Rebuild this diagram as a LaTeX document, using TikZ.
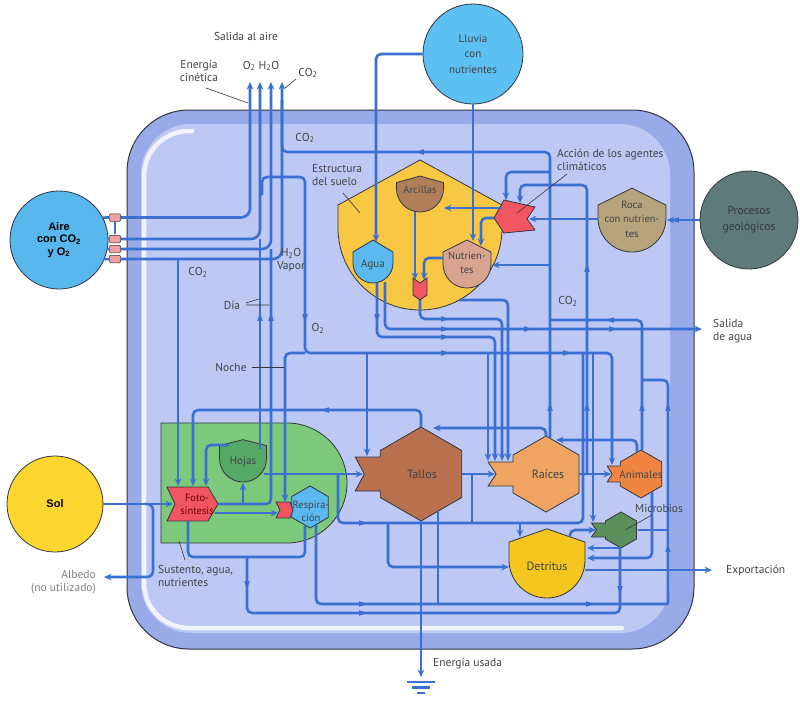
\documentclass[tikz,border=0pt]{standalone}
\usepackage{fontspec}
\newfontfamily\labf{PT Sans}
\newfontfamily\arialf{Liberation Sans}
\usetikzlibrary{arrows.meta}
\definecolor{linec}{HTML}{3A70D2}
\definecolor{edgec}{HTML}{33363F}
\definecolor{labc}{HTML}{404448}
\definecolor{boxout}{HTML}{98AAE8}
\definecolor{boxin}{HTML}{BDC8F4}
\definecolor{airec}{HTML}{58B7EC}
\definecolor{solc}{HTML}{FDD630}
\definecolor{lluviac}{HTML}{5CC0F2}
\definecolor{procc}{HTML}{5E7B79}
\definecolor{rocac}{HTML}{B7A47C}
\definecolor{soilc}{HTML}{F8C744}
\definecolor{arcc}{HTML}{B07F5A}
\definecolor{aguac}{HTML}{5AB9EF}
\definecolor{nutc}{HTML}{D8A38F}
\definecolor{redc}{HTML}{F05560}
\definecolor{greenc}{HTML}{7DC97C}
\definecolor{hojac}{HTML}{56A865}
\definecolor{tallc}{HTML}{B8704E}
\definecolor{raizc}{HTML}{EFA462}
\definecolor{animc}{HTML}{F08541}
\definecolor{microc}{HTML}{5D8F5C}
\definecolor{detc}{HTML}{F5C520}
\definecolor{pinkc}{HTML}{F0A0A0}
\newcommand\shieldpath[6]{%
  \filldraw[draw=edgec, line width=0.8pt, fill=#6] ({#1},{#2-#4*#3}) -- ({#1+#3},{#2-#5*#3}) -- ({#1+#3},{#2}) arc[start angle=0,end angle=-180,radius=#3pt] -- ({#1-#3},{#2-#5*#3}) -- cycle;}
\newcommand\hexpath[4]{%
  \filldraw[draw=edgec, line width=0.8pt, fill=#4] ({#1},{#2-#3}) -- ({#1+0.866*#3},{#2-0.5*#3}) -- ({#1+0.866*#3},{#2+0.5*#3}) -- ({#1},{#2+#3}) -- ({#1-0.866*#3},{#2+0.5*#3}) -- ({#1-0.866*#3},{#2-0.5*#3}) -- cycle;}
\newcommand\conspath[7]{%
  \filldraw[draw=edgec, line width=0.8pt, fill=#7] ({#1},{#2-#3}) -- ({#1+0.866*#3},{#2-0.5*#3}) -- ({#1+0.866*#3},{#2+0.5*#3}) -- ({#1},{#2+#3}) -- ({#1-0.866*#3},{#2+0.5*#3}) -- ({#1-0.866*#3},{#2+#5}) -- ({#1-0.866*#3-#4},{#2+#5}) -- ({#1-0.866*#3-#4+#6},{#2}) -- ({#1-0.866*#3-#4},{#2-#5}) -- ({#1-0.866*#3},{#2-#5}) -- ({#1-0.866*#3},{#2-0.5*#3}) -- cycle;}
\newcommand\tipat[3]{\fill[linec] ({#1},{#2}) +(#3:4.5pt) -- +(#3+145:4.8pt) -- +(#3-145:4.8pt) -- cycle;}
\begin{document}
\begin{tikzpicture}[x=1pt,y=-1pt,
  flow/.style={draw=linec, line width=2.6pt, rounded corners=5pt},
  flowa/.style={flow, -{Stealth[length=7.5pt,width=6.5pt]}},
  lab/.style={font=\labf\fontsize{11.5}{13.5}\selectfont, text=labc, inner sep=0pt, align=center},
  labl/.style={lab, align=left, anchor=west},
  intext/.style={font=\labf\fontsize{10.5}{12}\selectfont, text=labc, inner sep=0pt, align=center},
  pointer/.style={draw=edgec, line width=0.6pt},
  bigcirc/.style={circle, draw=edgec, line width=0.8pt, inner sep=0pt, align=center},
  pinkbox/.style={draw=edgec, line width=0.5pt, fill=pinkc, minimum width=11pt, minimum height=7.5pt, inner sep=0pt, rounded corners=1pt}]
\useasboundingbox (0,0) rectangle (800,702);
\fill[white] (0,0) rectangle (800,702);
% system frame
\filldraw[draw=edgec, line width=1pt, fill=boxout, rounded corners=62pt] (127,110) rectangle (694,649);
\fill[boxin, rounded corners=50pt] (141,124) rectangle (670,633);
\draw[white, opacity=0.8, line width=4.5pt, line cap=round, rounded corners=45pt] (192,131) -- (144,131) -- (144,628) -- (622,628);
% external sources
\node[bigcirc, fill=airec, minimum size=98pt, font=\arialf\bfseries\fontsize{11}{12.5}\selectfont] (aire) at (59,240) {Aire\\con CO\textsubscript{2}\\y O\textsubscript{2}};
\node[bigcirc, fill=solc, minimum size=96pt, font=\arialf\bfseries\fontsize{11}{12.5}\selectfont] (sol) at (55,504) {Sol};
\node[bigcirc, fill=lluviac, minimum size=100pt, font=\labf\fontsize{11}{15.5}\selectfont, text=labc] (lluvia) at (473,54) {Lluvia\\con\\nutrientes};
\node[bigcirc, fill=procc, minimum size=98pt, font=\labf\fontsize{11.5}{16}\selectfont, text=edgec] (procesos) at (749,220) {Procesos\\geológicos};
% soil structure
\shieldpath{420}{228}{82}{0.83}{0.28}{soilc}
\shieldpath{420}{188.5}{23.5}{0.53}{0.25}{arcc}
\shieldpath{373}{263}{20}{1.15}{0.55}{aguac}
\shieldpath{467}{264}{24}{1.0}{0.5}{nutc}
\shieldpath{632}{218}{34}{0.88}{0.38}{rocac}
\filldraw[draw=edgec, line width=0.8pt, fill=redc] (494,218) -- (504,200) -- (535,207) -- (527,219) -- (535,230) -- (504,233) -- cycle;
\filldraw[draw=edgec, line width=0.8pt, fill=redc] (413,278) -- (420,283) -- (427,278) -- (427,295) -- (420,300) -- (413,295) -- cycle;
% plant zone
\filldraw[draw=edgec, line width=0.8pt, fill=greenc] (161,423) -- (287,423) arc[start angle=90,end angle=-90,radius=60pt] -- (161,543) -- cycle;
\shieldpath{243}{458.5}{23.5}{0.8}{0.55}{hojac}
\filldraw[draw=edgec, line width=0.8pt, fill=redc] (167,487) -- (208,487) -- (218,504) -- (208,521) -- (167,521) -- (175,504) -- cycle;
\hexpath{310}{507}{21}{aguac}
\filldraw[draw=edgec, line width=0.8pt, fill=redc] (276,502) -- (290,502) -- (293,510) -- (290,518) -- (276,518) -- (280,510) -- cycle;
% consumers
\conspath{421}{474}{47}{25}{17}{9}{tallc}
\conspath{546}{474}{38}{25}{12}{8}{raizc}
\conspath{641}{474}{24}{13}{8}{5}{animc}
\conspath{621}{530}{18}{14}{7}{5}{microc}
\shieldpath{547}{560}{38}{0.82}{0.47}{detc}
% air exchange boxes
\node[pinkbox] (p1) at (115,217.5) {};
\node[pinkbox] (p2) at (115,239) {};
\node[pinkbox] (p3) at (115,249) {};
\node[pinkbox] (p4) at (115,259) {};
% named ends
\coordinate (out1) at (250,82);
\coordinate (out2) at (260,82);
\coordinate (out3) at (271,82);
\coordinate (out4) at (282,82);
\coordinate (salidaagua) at (702,329);
\coordinate (export) at (712,570);
\coordinate (albedo) at (104,577);
\coordinate (sink) at (421,677);
% ---- connectors ----
\draw[flow] (aire.27) -- (p1.west);
\draw[flow] (aire.1) -- (p2.west);
\draw[flow] (aire.-11) -- (p3.west);
\draw[flow] (aire.-23) -- (p4.west);
\draw[draw=linec, line width=1.2pt, -{Stealth[length=3pt]}] (p1.south) -- (p2.north);
\draw[flowa, rounded corners=9pt] (p1.east) -| (out1);
\draw[flowa, rounded corners=9pt] (p2.east) -| (out2);
\draw[flowa, rounded corners=9pt] (p3.east) -| (out3);
\draw[flowa, rounded corners=9pt] (p4.east) -| (out4);
\draw[flowa] (178,259) -- (178,486);
\draw[flow] (218,504) -- (271,504) -- (271,249);
\draw[flowa] (243,504) -- (243,483);
\draw[flow] (260,449) -- (260,239);
\draw[flowa] (215,513) -- (278,513);
\draw[flowa] (229,445) -- (206,445) -- (206,486);
\draw[flowa] (421,427) -- (421,410) -- (193,410) -- (193,486);
\draw[flowa] (262,195) -- (262,177) -- (305,177) -- (305,353) -- (612,353) -- (612,465);
\draw[flowa] (305,353) -- (285,353) -- (285,502);
\draw[flowa] (367,353) -- (367,456);
\draw[flowa] (488,353) -- (488,461);
\draw[flowa] (593,353) -- (593,522);
\draw[flowa] (sol.east) -- (173,504);
\draw[flowa, rounded corners=6pt] (145,504) -- (153,504) -- (153,577) -- (albedo);
\draw[flowa] (lluvia.west) -| (376,242);
\draw[flowa] (lluvia.south) -- (473,241);
\draw[flowa] (procesos.west) -- (667,220);
\draw[flowa] (598,219) -- (529,219);
\draw[flowa] (502,208) -- (444,208);
\draw[flowa] (494,218) -- (481,218) -- (481,246);
\draw[flowa] (550,172) -- (506,172) -- (506,200);
\draw[flowa] (587,474) -- (587,185) -- (520,185) -- (520,203);
\draw[flowa] (550,265) -- (492,265);
\draw[flow] (550,438) -- (550,152) -- (282,152) -- (282,100);
\draw[flowa] (415,212) -- (415,280);
\draw[flowa] (443,258) -- (424,258) -- (424,280);
\draw[flowa] (420,300) -- (420,319) -- (502,319) -- (502,461);
\draw[flowa] (377,283) -- (377,337) -- (495,337) -- (495,461);
\draw[flowa] (385,282) -- (385,329) -- (salidaagua);
\draw[flowa] (459,300) -- (508,300) -- (508,461);
\draw[flowa] (264,474) -- (363,474);
\draw[flow] (338,474) -- (338,523) -- (583,523) -- (583,353);
\draw[flowa] (388,523) -- (388,567) -- (509,567);
\draw[flowa] (520,523) -- (520,537);
\draw[flowa] (462,474) -- (495,474);
\draw[flow] (472,474) -- (472,523);
\draw[flowa] (579,474) -- (611,474);
\draw[flowa] (546,436) -- (546,428) -- (433,428);
\draw[flowa] (637,452) -- (637,440) -- (556,440);
\draw[flow] (642,450) -- (642,320) -- (550,320);
\draw[flow] (642,380) -- (668,380) -- (668,604);
\draw[flow] (638,530) -- (668,530);
\draw[flowa] (652,492) -- (652,558) -- (587,558);
\draw[flowa] (621,548) -- (587,548);
\draw[flowa] (570,537) -- (570,530) -- (596,530);
\draw[flow] (188,521) -- (188,557) -- (305,557) -- (305,526);
\draw[flow] (247,557) -- (247,613) -- (620,613) -- (620,548);
\draw[flow] (316,525) -- (316,604) -- (668,604);
\draw[flow] (438,511) -- (438,604);
\draw[flowa] (421,521) -- (sink);
\draw[flowa] (585,570) -- (export);
% flow direction marks
\tipat{260}{317}{90}\tipat{271}{317}{90}\tipat{305}{318}{270}
\tipat{445}{353}{0}\tipat{567}{353}{0}\tipat{377}{318}{270}
\tipat{445}{319}{0}\tipat{445}{329}{0}\tipat{528}{329}{0}\tipat{613}{329}{0}\tipat{445}{337}{0}
\tipat{420}{152}{180}\tipat{550}{407}{90}\tipat{587}{268}{90}\tipat{587}{407}{90}
\tipat{642}{407}{90}\tipat{668}{407}{90}\tipat{668}{548}{90}\tipat{610}{320}{180}
\tipat{325}{410}{180}\tipat{363}{523}{0}\tipat{363}{604}{0}\tipat{590}{604}{0}\tipat{363}{613}{0}
\tipat{247}{585}{270}\tipat{620}{590}{270}\tipat{675}{220}{180}
% energy sink
\draw[linec, line width=2.8pt] (407,682) -- (435,682) (412,687.5) -- (430,687.5) (417,693) -- (425,693);
% texts in shapes
\node[intext] (arcillas) at (420,190) {Arcillas};
\node[intext, font=\labf\fontsize{11}{12}\selectfont] (agua) at (373,265) {Agua};
\node[intext, font=\labf\fontsize{10.5}{14}\selectfont] (nutrientes) at (467,263) {Nutrien-\\tes};
\node[intext, font=\labf\fontsize{10.5}{14.5}\selectfont] (roca) at (632,219) {Roca\\con nutrien-\\tes};
\node[intext, font=\labf\fontsize{11}{12}\selectfont] (hojas) at (243,462) {Hojas};
\node[intext, text=red!45!black, font=\labf\fontsize{10.5}{13}\selectfont] (foto) at (197,504) {Foto-\\síntesis};
\node[intext, font=\labf\fontsize{10.5}{13}\selectfont] (resp) at (311,511) {Respira-\\ción};
\node[intext, font=\labf\fontsize{12}{13}\selectfont] (tallos) at (422,474) {Tallos};
\node[intext, font=\labf\fontsize{12}{13}\selectfont] (raices) at (548,474) {Raíces};
\node[intext, font=\labf\fontsize{11}{12}\selectfont] (animales) at (641,475) {Animales};
\node[intext, font=\labf\fontsize{12}{13}\selectfont] (detritus) at (547,566) {Detritus};
% labels
\node[lab] (salaire) at (246,36) {Salida al aire};
\node[lab] (ecin) at (199,71) {Energía\\cinética};
\node[lab] (oh) at (261,66) {O\textsubscript{2} H\textsubscript{2}O};
\node[lab] (co2a) at (308,73) {CO\textsubscript{2}};
\node[lab] (co2b) at (305,138) {CO\textsubscript{2}};
\node[labl] (estr) at (312,175) {Estructura\\del suelo};
\node[labl] (accion) at (557,160) {Acción de los agentes\\climáticos};
\node[lab] (co2c) at (198,272) {CO\textsubscript{2}};
\node[lab] (vapor) at (291,260) {H\textsubscript{2}O\\Vapor};
\node[lab] (dia) at (232,305) {Día};
\node[lab] (o2) at (318,328) {O\textsubscript{2}};
\node[lab] (noche) at (231,367) {Noche};
\node[lab] (co2d) at (568,301) {CO\textsubscript{2}};
\node[labl] (salagua) at (713,331) {Salida\\de agua};
\node[labl] (micro) at (635,508) {Microbios};
\node[labl] (exportl) at (726,570) {Exportación};
\node[labl] (sust) at (158,576) {Sustento, agua,\\nutrientes};
\node[lab, text=gray, align=right, anchor=east] (albl) at (96,582) {Albedo\\(no utilizado)};
\node[labl] (enus) at (433,664) {Energía usada};
% pointers
\draw[pointer] (206,88) -- (248,103);
\draw[pointer] (296,79) -- (285,88);
\draw[pointer] (343,193) -- (360,213);
\draw[pointer] (567,174) -- (517,213);
\draw[pointer] (246,303) -- (259,299) (246,305) -- (269,305);
\draw[pointer] (252,367) -- (284,367);
\draw[pointer] (652,515) -- (625,530);
\draw[pointer] (185,560) -- (179,541);
\end{tikzpicture}
\end{document}
